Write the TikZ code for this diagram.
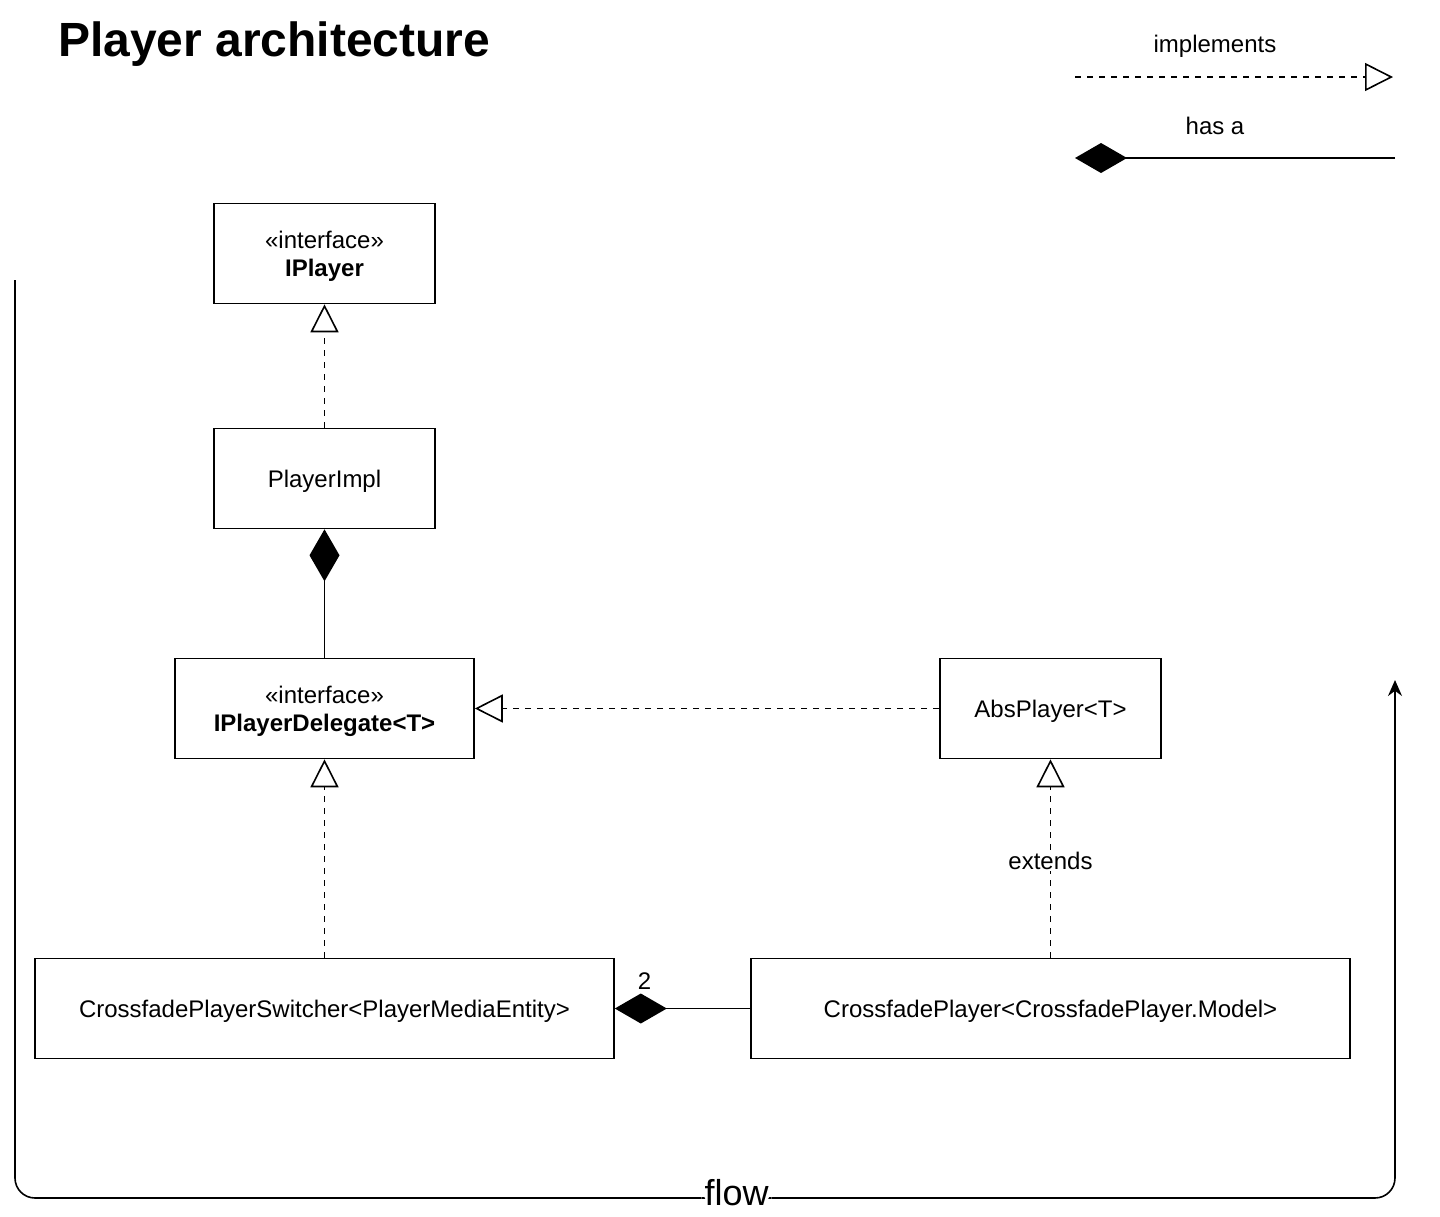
\documentclass[tikz,border=0pt]{standalone}
\usepackage{fontspec}
\setmainfont{Liberation Sans}
\usetikzlibrary{arrows.meta, positioning}

\begin{document}
\begin{tikzpicture}[
    x=1pt, y=-1pt,
    font=\fontsize{24}{28}\selectfont,
    cls/.style={draw, line width=1.6pt, minimum height=100pt, inner sep=4pt, text depth=0pt, align=center},
    realize/.style={line width=1.6pt, dash pattern=on 6pt off 6pt, -{Triangle[open, length=28pt, width=28pt, fill=white]}},
    hasa/.style={line width=1.6pt, -{Diamond[length=52pt, width=30pt]}},
    flowline/.style={line width=1.6pt, rounded corners=20pt, -{Stealth[length=16pt, width=14pt]}}
]
    \useasboundingbox (0,0) rectangle (1440,1216);

    % title and legend
    \node[anchor=base west, inner sep=0pt, font=\fontsize{48}{54}\selectfont\bfseries] (title) at (58,56) {Player architecture};
    \node (implabel) at (1215,46) {implements};
    \node (hasalabel) at (1215,126) {has a};
    \coordinate (impfrom) at (1075,77);
    \coordinate (impto) at (1393,77);
    \coordinate (hasafrom) at (1395,158);
    \coordinate (hasato) at (1075,158);
    \draw[realize] (impfrom) -- (impto);
    \draw[hasa] (hasafrom) -- (hasato);

    % classes
    \node[cls, minimum width=221pt] (iplayer) at (324.5,253.5) {«interface»\\\textbf{IPlayer}};
    \node[cls, minimum width=221pt] (impl) at (324.5,478.5) {PlayerImpl};
    \node[cls, minimum width=299pt] (delegate) at (324.5,708.5) {«interface»\\\textbf{IPlayerDelegate<T>}};
    \node[cls, minimum width=221pt] (absplayer) at (1050.5,708.5) {AbsPlayer<T>};
    \node[cls, minimum width=579pt] (switcher) at (324.5,1008.5) {CrossfadePlayerSwitcher<PlayerMediaEntity>};
    \node[cls, minimum width=599pt] (crossfade) at (1050.5,1008.5) {CrossfadePlayer<CrossfadePlayer.Model>};

    \draw[realize] (impl) -- (iplayer);
    \draw[hasa] (delegate) -- (impl);
    \draw[realize] (absplayer) -- (delegate);
    \draw[realize] (switcher) -- (delegate);
    \draw[realize] (crossfade) -- node[pos=0.49, fill=white, inner sep=2pt] {extends} (absplayer);
    \draw[hasa] (crossfade) -- node[pos=0.78, above=18pt, inner sep=0pt] {2} (switcher);

    % flow
    \coordinate (flowstart) at (15,280);
    \coordinate (flowleft) at (15,1198);
    \coordinate (flowright) at (1395,1198);
    \coordinate (flowend) at (1395,680);
    \draw[flowline] (flowstart) -- (flowleft) -- node[pos=0.523, yshift=5pt, fill=white, inner xsep=3pt, inner ysep=1pt, font=\fontsize{36}{40}\selectfont] {flow} (flowright) -- (flowend);
\end{tikzpicture}
\end{document}
